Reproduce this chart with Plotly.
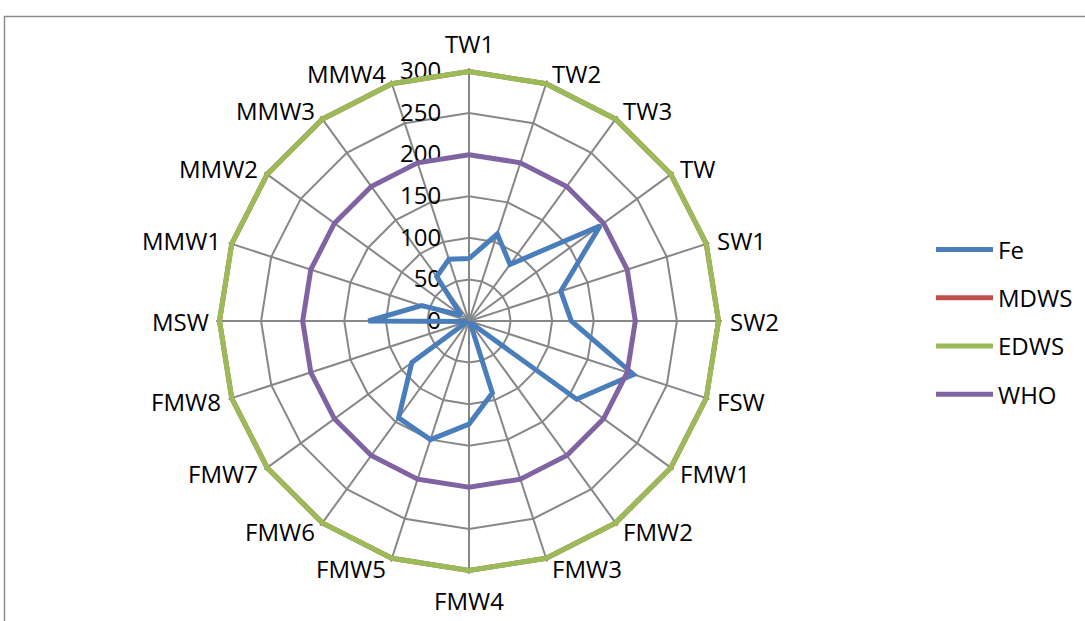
import math
import plotly.graph_objects as go

# Sampling sites around the radar
categories = ["TW1", "TW2", "TW3", "TW", "SW1", "SW2", "FSW", "FMW1", "FMW2", "FMW3",
              "FMW4", "FMW5", "FMW6", "FMW7", "FMW8", "MSW", "MMW1", "MMW2", "MMW3", "MMW4"]

# Measured iron concentration per site
fe = [75, 110, 84, 195, 116, 123, 208, 160, 2, 91,
      124, 150, 144, 85, 2, 121, 60, 12, 66, 78]

# Guideline limits (constant across sites)
mdws = [300] * len(categories)
edws = [300] * len(categories)
who = [200] * len(categories)

radial_ticks = [0, 50, 100, 150, 200, 250, 300]

series = [
    ("Fe", fe, "#4A7EBB"),
    ("MDWS", mdws, "#C0504D"),
    ("EDWS", edws, "#9BBB59"),
    ("WHO", who, "#8064A2"),
]

FONT = "Open Sans"
FS = 24
W, H = 1085, 621
AX_MAX = 300
R_MAX = 304                      # a little headroom so the 300 ring is not clipped
cx, cy, R300 = 469, 321, 249.5   # pixel centre and radius of the 300 ring
R = R300 * R_MAX / AX_MAX

fig = go.Figure()
for name, vals, color in series:
    fig.add_trace(go.Scatterpolar(
        r=vals + vals[:1],
        theta=categories + categories[:1],
        mode="lines",
        name=name,
        legendgroup=name,
        line=dict(color=color, width=5),
    ))

# Category labels set just outside the outer ring, anchored by side
annotations = []
n = len(categories)
for i, cat in enumerate(categories):
    a = math.radians(360 * i / n)          # clockwise from top
    s, c = math.sin(a), math.cos(a)
    vx, vy = cx + R300 * s, cy - R300 * c
    if abs(s) < 0.05:
        x, xanchor = vx, "center"
        y = vy - 28 if c > 0 else vy + 30
    else:
        gap = 1 + 8 * abs(s)
        x = vx + gap if s > 0 else vx - gap
        xanchor = "left" if s > 0 else "right"
        y = vy - 10.5 * c
    annotations.append(dict(
        text=cat, x=x / W, y=1 - y / H, xref="paper", yref="paper",
        xanchor=xanchor, yanchor="middle", showarrow=False,
        font=dict(family=FONT, size=FS, color="black"),
    ))

fig.update_layout(
    width=W, height=H,
    margin=dict(l=0, r=0, t=0, b=0),
    paper_bgcolor="white",
    plot_bgcolor="white",
    font=dict(family=FONT, size=FS, color="black"),
    polar=dict(
        domain=dict(x=[(cx - R) / W, (cx + R) / W],
                    y=[(H - cy - R) / H, (H - cy + R) / H]),
        bgcolor="white",
        gridshape="linear",
        angularaxis=dict(
            type="category",
            categoryorder="array",
            categoryarray=categories,
            direction="clockwise",
            rotation=90,
            showgrid=True,
            gridcolor="#878787",
            gridwidth=1.8,
            showline=False,
            showticklabels=False,
            ticks="",
            layer="below traces",
        ),
        radialaxis=dict(
            range=[0, R_MAX],
            tickvals=radial_ticks,
            ticktext=[str(v) for v in radial_ticks],
            angle=90,
            side="counterclockwise",
            showgrid=True,
            gridcolor="#878787",
            gridwidth=1.8,
            showline=False,
            layer="below traces",
            ticks="outside",
            ticklen=19,
            tickcolor="rgba(0,0,0,0)",
            tickangle=90,
            tickfont=dict(family=FONT, size=FS, color="black"),
        ),
    ),
    annotations=annotations,
    legend=dict(
        x=931 / W, xanchor="left",
        y=1 - 322 / H, yanchor="middle",
        traceorder="grouped",
        tracegroupgap=14,
        itemwidth=57,
        font=dict(family=FONT, size=FS, color="black"),
        bgcolor="rgba(0,0,0,0)",
    ),
    shapes=[
        dict(type="rect", xref="paper", yref="paper",
             x0=4.5 / W, x1=1.05, y0=-0.05, y1=1 - 16.5 / H,
             line=dict(color="#8C8C8C", width=1.5), fillcolor="rgba(0,0,0,0)",
             layer="below"),
    ],
)

fig.write_html("out.html")
